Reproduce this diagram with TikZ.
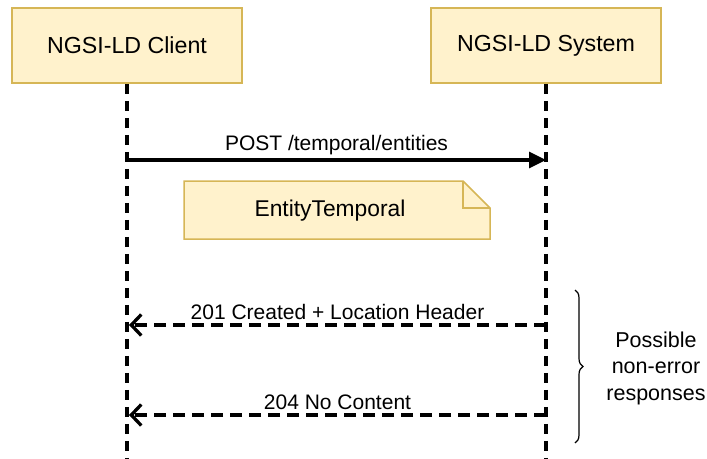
\documentclass[tikz,border=0pt]{standalone}
\usepackage{fontspec}
\setmainfont{Liberation Sans}
\usepackage{xcolor}
\usetikzlibrary{arrows.meta,decorations.pathreplacing}
\definecolor{noteyellow}{HTML}{FFF2CC}
\definecolor{notegold}{HTML}{D6B656}

\begin{document}
\begin{tikzpicture}[x=1pt, y=-1pt,
    actor/.style={draw=notegold, fill=noteyellow, line width=1.5pt,
        minimum width=230pt, minimum height=75pt, font=\fontsize{23.2}{27}\selectfont},
    lifeline/.style={line width=3.3pt, dash pattern=on 10pt off 7pt},
    call/.style={line width=3.3pt, -{Triangle[length=17pt,width=16pt]}},
    reply/.style={line width=3.3pt, dash pattern=on 12pt off 7pt,
        -{Straight Barb[length=10pt,width=21pt]}},
    lbl/.style={font=\fontsize{21}{25}\selectfont}]
    \useasboundingbox (0,0) rectangle (707,458);
    \node[actor] (client) at (127,45.5) {NGSI-LD Client};
    \node[actor] (system) at (546,45.5) {NGSI-LD System};
    % lifelines
    \coordinate (clientend) at (127,458);
    \coordinate (systemend) at (546,458);
    \draw[lifeline] (client.south) -- (clientend);
    \draw[lifeline] (system.south) -- (systemend);
    % request
    \coordinate (postc) at (127,160);
    \coordinate (posts) at (546,160);
    \draw[call] (postc) -- (posts) node[lbl, midway, above] {POST /temporal/entities};
    % payload note
    \draw[draw=notegold, fill=noteyellow, line width=1.5pt]
        (184,181) -- (463,181) -- (490,208) -- (490,239) -- (184,239) -- cycle;
    \draw[draw=notegold, line width=1.5pt] (463,181) -- (463,208) -- (490,208);
    \node[font=\fontsize{22.8}{27}\selectfont] (note) at (330,211) {EntityTemporal};
    % responses
    \coordinate (createds) at (546,325);
    \coordinate (createdc) at (129,325);
    \draw[reply] (createds) -- (createdc) node[lbl, midway, above] {201 Created + Location Header};
    \coordinate (nocontents) at (546,415);
    \coordinate (nocontentc) at (129,415);
    \draw[reply] (nocontents) -- (nocontentc) node[lbl, midway, above] {204 No Content};
    % brace
    \coordinate (bracetop) at (575,290);
    \coordinate (bracebot) at (575,443);
    \draw[decorate, decoration={brace, amplitude=8pt}, line width=1.2pt] (bracetop) -- (bracebot);
    \node[align=center, font=\fontsize{21.5}{26.5}\selectfont] (possible) at (656,368)
        {Possible\\non-error\\responses};
\end{tikzpicture}
\end{document}
